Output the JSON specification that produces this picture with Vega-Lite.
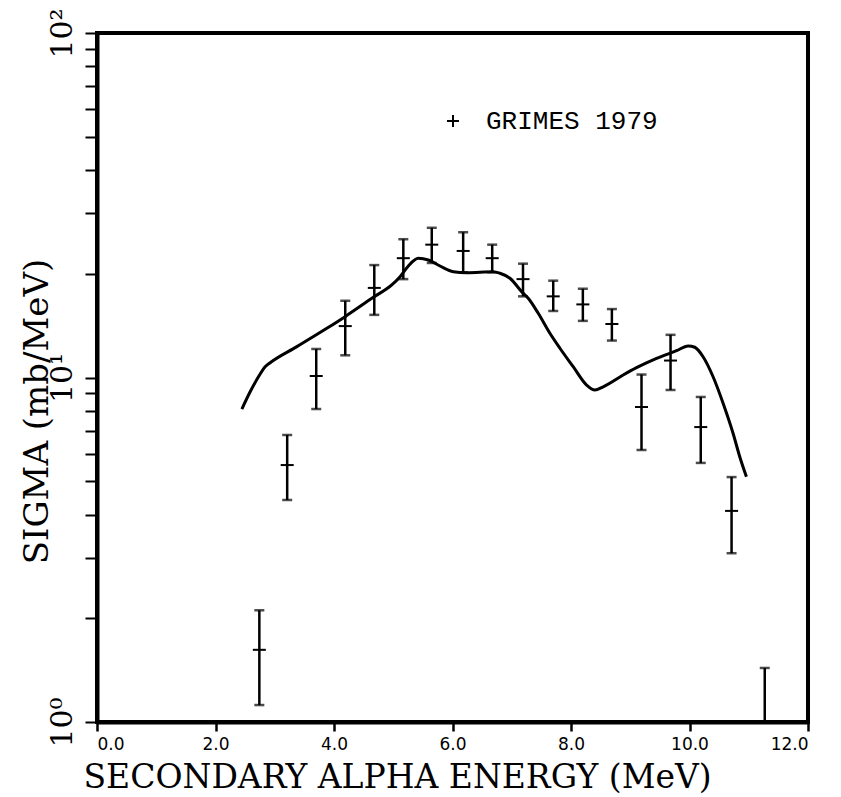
{
  "$schema": "https://vega.github.io/schema/vega-lite/v6.json",
  "autosize": "none",
  "width": 711,
  "height": 689,
  "padding": {"left": 97, "top": 33, "right": 33, "bottom": 75},
  "background": "white",
  "datasets": {
    "grimes": [
      {"E": 2.74, "sigma": 1.62, "lo": 1.12, "hi": 2.11},
      {"E": 3.21, "sigma": 5.57, "lo": 4.41, "hi": 6.81},
      {"E": 3.70, "sigma": 10.1, "lo": 8.10, "hi": 12.1},
      {"E": 4.19, "sigma": 14.1, "lo": 11.6, "hi": 16.7},
      {"E": 4.68, "sigma": 18.2, "lo": 15.2, "hi": 21.2},
      {"E": 5.17, "sigma": 22.2, "lo": 19.3, "hi": 25.2},
      {"E": 5.65, "sigma": 24.3, "lo": 21.5, "hi": 27.2},
      {"E": 6.18, "sigma": 23.3, "lo": 20.2, "hi": 26.4},
      {"E": 6.67, "sigma": 22.2, "lo": 20.2, "hi": 24.3},
      {"E": 7.19, "sigma": 19.3, "lo": 17.2, "hi": 21.4},
      {"E": 7.70, "sigma": 17.2, "lo": 15.6, "hi": 19.1},
      {"E": 8.20, "sigma": 16.3, "lo": 14.6, "hi": 18.1},
      {"E": 8.69, "sigma": 14.3, "lo": 12.8, "hi": 15.8},
      {"E": 9.19, "sigma": 8.21, "lo": 6.16, "hi": 10.2},
      {"E": 9.68, "sigma": 11.2, "lo": 9.20, "hi": 13.3},
      {"E": 10.19, "sigma": 7.18, "lo": 5.65, "hi": 8.78},
      {"E": 10.71, "sigma": 4.10, "lo": 3.09, "hi": 5.14},
      {"E": 11.27, "sigma": 0.8, "lo": 0.45, "hi": 1.435}
    ],
    "calc": [
      {"E": 2.445, "sigma": 8.10},
      {"E": 2.585, "sigma": 9.09},
      {"E": 2.725, "sigma": 10.05},
      {"E": 2.838, "sigma": 10.75},
      {"E": 2.922, "sigma": 11.04},
      {"E": 3.373, "sigma": 12.29},
      {"E": 3.879, "sigma": 13.89},
      {"E": 4.187, "sigma": 15.02},
      {"E": 4.664, "sigma": 17.09},
      {"E": 4.975, "sigma": 18.56},
      {"E": 5.115, "sigma": 19.61},
      {"E": 5.255, "sigma": 21.07},
      {"E": 5.423, "sigma": 22.18},
      {"E": 5.592, "sigma": 21.93},
      {"E": 5.789, "sigma": 21.07},
      {"E": 6.013, "sigma": 20.28},
      {"E": 6.240, "sigma": 20.15},
      {"E": 6.688, "sigma": 20.28},
      {"E": 6.801, "sigma": 20.07},
      {"E": 6.970, "sigma": 19.41},
      {"E": 7.167, "sigma": 17.75},
      {"E": 7.278, "sigma": 16.98},
      {"E": 7.447, "sigma": 15.36},
      {"E": 7.644, "sigma": 13.44},
      {"E": 7.813, "sigma": 12.16},
      {"E": 8.037, "sigma": 10.75},
      {"E": 8.263, "sigma": 9.51},
      {"E": 8.403, "sigma": 9.20},
      {"E": 8.543, "sigma": 9.40},
      {"E": 8.880, "sigma": 10.17},
      {"E": 9.106, "sigma": 10.68},
      {"E": 9.444, "sigma": 11.37},
      {"E": 9.781, "sigma": 11.96},
      {"E": 9.977, "sigma": 12.35},
      {"E": 10.089, "sigma": 12.24},
      {"E": 10.229, "sigma": 11.49},
      {"E": 10.398, "sigma": 10.05},
      {"E": 10.567, "sigma": 8.42},
      {"E": 10.735, "sigma": 6.89},
      {"E": 10.848, "sigma": 5.89},
      {"E": 10.961, "sigma": 5.15}
    ]
  },
  "encoding": {
    "x": {
      "field": "E",
      "type": "quantitative",
      "scale": {"domain": [0, 12], "nice": false, "zero": false},
      "axis": {
        "title": "SECONDARY ALPHA ENERGY (MeV)",
        "values": [0, 2, 4, 6, 8, 10, 12],
        "format": ".1f",
        "grid": false,
        "tickSize": 9,
        "tickWidth": 2.5,
        "labelFont": "DejaVu Sans",
        "labelFontSize": 17,
        "labelPadding": 5,
        "labelColor": "black",
        "titleFont": "DejaVu Serif",
        "titleFontSize": 33,
        "titleFontWeight": "normal",
        "titleColor": "black",
        "titleAlign": "left",
        "titleAnchor": "start",
        "titleX": -14,
        "titlePadding": 9
      }
    }
  },
  "layer": [
    {
      "data": {"name": "calc"},
      "mark": {"type": "line", "color": "black", "strokeWidth": 3, "interpolate": "monotone"},
      "encoding": {
        "y": {
          "field": "sigma",
          "type": "quantitative",
          "scale": {"type": "log", "domain": [1, 100], "nice": false},
          "axis": {
            "title": "SIGMA (mb/MeV)",
            "values": [1, 2, 3, 4, 5, 6, 7, 8, 9, 10, 20, 30, 40, 50, 60, 70, 80, 90, 100],
            "labelExpr": "datum.value == 1 ? '10⁰' : datum.value == 10 ? '10¹' : datum.value == 100 ? '10²' : ''",
            "grid": false,
            "tickSize": 12,
            "tickWidth": 2,
            "labelAngle": -90,
            "labelFont": "DejaVu Serif",
            "labelFontSize": 30,
            "labelPadding": 8,
            "labelColor": "black",
            "labelOverlap": false,
            "labelBound": false,
            "titleFont": "DejaVu Serif",
            "titleFontSize": 34,
            "titleFontWeight": "normal",
            "titleColor": "black",
            "titleAlign": "center",
            "titleBaseline": "alphabetic",
            "titleX": -50,
            "titleY": 378
          }
        }
      }
    },
    {
      "data": {"name": "grimes"},
      "mark": {"type": "rule", "color": "black", "strokeWidth": 2.5, "clip": true},
      "encoding": {
        "y": {"field": "lo", "type": "quantitative"},
        "y2": {"field": "hi"}
      }
    },
    {
      "data": {"name": "grimes"},
      "mark": {"type": "tick", "orient": "horizontal", "color": "black", "size": 10, "thickness": 2.5, "clip": true},
      "encoding": {
        "y": {"field": "hi", "type": "quantitative"}
      }
    },
    {
      "data": {"name": "grimes"},
      "mark": {"type": "tick", "orient": "horizontal", "color": "black", "size": 10, "thickness": 2.5, "clip": true},
      "encoding": {
        "y": {"field": "lo", "type": "quantitative"}
      }
    },
    {
      "data": {"name": "grimes"},
      "mark": {"type": "tick", "orient": "horizontal", "size": 13, "thickness": 2, "opacity": 1, "clip": true},
      "encoding": {
        "y": {"field": "sigma", "type": "quantitative"},
        "color": {
          "datum": "GRIMES 1979",
          "type": "nominal",
          "scale": {"range": ["black"]},
          "legend": {
            "title": null,
            "orient": "none",
            "legendX": 343,
            "legendY": 75,
            "symbolType": "M-1,0H1M0,-1V1",
            "symbolSize": 144,
            "symbolStrokeWidth": 2,
            "symbolStrokeColor": "black",
            "symbolFillColor": "transparent",
            "labelOffset": 20,
            "labelLimit": 0,
            "labelFont": "Liberation Mono",
            "labelFontSize": 26,
            "labelColor": "black",
            "padding": 0,
            "encode": {
              "symbols": {
                "update": {
                  "fill": {"value": "transparent"},
                  "stroke": {"value": "black"},
                  "strokeWidth": {"value": 2}
                }
              }
            }
          }
        }
      }
    }
  ],
  "config": {
    "view": {"stroke": "black", "strokeWidth": 4},
    "axis": {"domainColor": "black", "domainWidth": 4, "tickColor": "black"}
  }
}
